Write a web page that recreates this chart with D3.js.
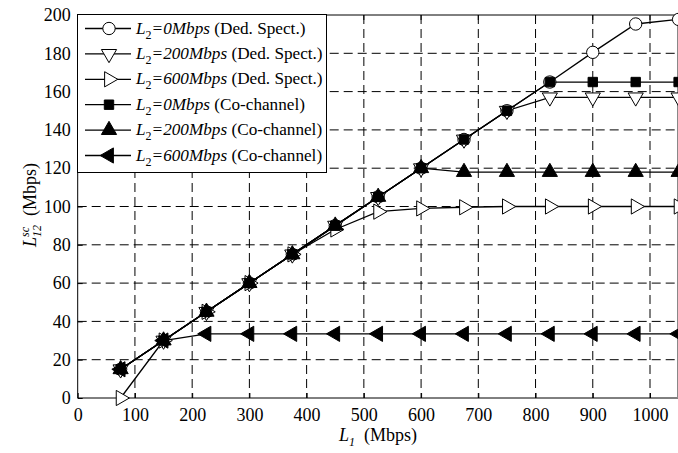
<!DOCTYPE html>
<html><head><meta charset="utf-8">
<script src="https://cdn.jsdelivr.net/npm/d3@7"></script>
<style>
html,body{margin:0;padding:0;background:#fff;}
svg{display:block;}
text{font-family:"Liberation Serif","Times New Roman",serif;fill:#000;}
</style></head>
<body><svg id="c" width="678" height="453"></svg>
<script>
const xValues = [75,150,225,300,375,450,525,600,675,750,825,900,975,1050];
const dedL0   = [15,30,45,60,75,90,105,120,135,150,165,180.5,195.3,197.7];
const dedL200 = [15,30,45,60,75,90,105,120,135,150,157,157,157,157];
const dedL600 = [0,30,45,60,75,88,97.3,99,99.6,100,100,100,100,100];
const coL0    = [15,30,45,60,75,90,105,120,135,150,165,165,165,165];
const coL200  = [15,30,45,60,75,90,105,120,118,118,118,118,118,118];
const coL600  = [15,30,33.5,33.5,33.5,33.5,33.5,33.5,33.5,33.5,33.5,33.5,33.5,33.5];
const legendL2 = ["0Mbps","200Mbps","600Mbps","0Mbps","200Mbps","600Mbps"];
const legendMode = ["(Ded. Spect.)","(Ded. Spect.)","(Ded. Spect.)","(Co-channel)","(Co-channel)","(Co-channel)"];
const xTicks = [0,100,200,300,400,500,600,700,800,900,1000];
const yTicks = [0,20,40,60,80,100,120,140,160,180,200];

const series = [
  {v:dedL0,   shape:"circle", rot:0,   fill:"#fff"},
  {v:dedL200, shape:"tri",    rot:180, fill:"#fff"},
  {v:dedL600, shape:"tri",    rot:90,  fill:"#fff"},
  {v:coL0,    shape:"square", rot:0,   fill:"#000"},
  {v:coL200,  shape:"tri",    rot:0,   fill:"#000"},
  {v:coL600,  shape:"tri",    rot:-90, fill:"#000"}
];

const svg = d3.select("#c");
const L = 77.7, T = 15, B = 398;
const x = d3.scaleLinear().domain([0,1050]).range([L, L + 1050*0.5723]);
const y = d3.scaleLinear().domain([0,200]).range([B, T]);
const R = x(1050);

const symFor = s => {
  if (s.shape === "circle") return d3.symbol(d3.symbolCircle, 120)();
  if (s.shape === "square") return d3.symbol(d3.symbolSquare, 88)();
  return d3.symbol(d3.symbolTriangle, 100)();
};

// grid
const g = svg.append("g");
g.selectAll(".gx").data(xTicks.filter(d=>d>0)).enter().append("line")
  .attr("x1", d=>x(d)).attr("x2", d=>x(d)).attr("y1", T).attr("y2", B)
  .attr("stroke","#000").attr("stroke-width",1).attr("stroke-dasharray","9,5");
g.selectAll(".gy").data(yTicks.filter(d=>d>0 && d<200)).enter().append("line")
  .attr("x1", L).attr("x2", R).attr("y1", d=>y(d)).attr("y2", d=>y(d))
  .attr("stroke","#000").attr("stroke-width",1).attr("stroke-dasharray","9,5");

// axes
const xAxis = d3.axisBottom(x).tickValues(xTicks).tickSize(-5).tickPadding(10).tickFormat(d3.format("d"));
const yAxis = d3.axisLeft(y).tickValues(yTicks).tickSize(-5).tickPadding(7).tickFormat(d3.format("d"));
const ax = svg.append("g").attr("transform",`translate(0,${B})`).call(xAxis);
const ay = svg.append("g").attr("transform",`translate(${L},0)`).call(yAxis);
[ax,ay].forEach(a=>{
  a.select(".domain").remove();
  a.selectAll("text").style("font-family","Liberation Serif").style("font-size","18px");
  a.selectAll("line").attr("stroke","#000");
});
// top ticks
svg.append("g").selectAll("line").data(xTicks).enter().append("line")
  .attr("x1",d=>x(d)).attr("x2",d=>x(d)).attr("y1",T).attr("y2",T+5).attr("stroke","#000");

// frame
svg.append("line").attr("x1",L).attr("x2",R).attr("y1",T).attr("y2",T).attr("stroke","#000");
svg.append("line").attr("x1",L).attr("x2",R).attr("y1",B).attr("y2",B).attr("stroke","#000");
svg.append("line").attr("x1",L).attr("x2",L).attr("y1",T).attr("y2",B).attr("stroke","#000");
svg.append("line").attr("x1",677.5).attr("x2",677.5).attr("y1",T).attr("y2",B).attr("stroke","#888");

// series
const line = d3.line().x((d,i)=>x(xValues[i])).y(d=>y(d));
series.forEach(s=>{
  svg.append("path").attr("d", line(s.v)).attr("fill","none").attr("stroke","#000").attr("stroke-width",1.3);
  svg.append("g").selectAll("path").data(s.v).enter().append("path")
    .attr("d", symFor(s))
    .attr("transform",(d,i)=>`translate(${x(xValues[i])},${y(d)}) rotate(${s.rot})`)
    .attr("fill", s.fill).attr("stroke","#000").attr("stroke-width",1);
});

// legend
const lg = svg.append("g");
lg.append("rect").attr("x",77.5).attr("y",14.5).attr("width",249).attr("height",158)
  .attr("fill","#fff").attr("stroke","#000").attr("stroke-width",1);
series.forEach((s,i)=>{
  const yy = 28.5 + i*25.4;
  lg.append("line").attr("x1",85).attr("x2",131).attr("y1",yy).attr("y2",yy).attr("stroke","#000").attr("stroke-width",1.3);
  lg.append("path").attr("d",symFor(s)).attr("transform",`translate(109,${yy}) rotate(${s.rot})`)
    .attr("fill",s.fill).attr("stroke","#000");
  const t = lg.append("text").attr("x",136).attr("y",yy+5).style("font-size","17.2px");
  t.append("tspan").style("font-style","italic").text("L");
  t.append("tspan").attr("dy",5).style("font-size","12px").text("2");
  t.append("tspan").attr("dy",-5).style("font-style","italic").text("=" + legendL2[i]);
  t.append("tspan").text(" " + legendMode[i]);
});

// x label
const xl = svg.append("text").attr("x",378).attr("y",441).attr("text-anchor","middle").style("font-size","18px");
xl.append("tspan").style("font-style","italic").text("L");
xl.append("tspan").attr("dy",5).style("font-size","12px").style("font-style","italic").text("1");
xl.append("tspan").attr("dy",-5).text("\u2002(Mbps)");

// y label
const yl = svg.append("text").attr("transform","translate(36,205) rotate(-90)").attr("text-anchor","middle").style("font-size","18px");
yl.append("tspan").style("font-style","italic").text("L");
yl.append("tspan").attr("dy",-7).style("font-size","12px").style("font-style","italic").text("sc");
yl.append("tspan").attr("dy",12).attr("dx",-10).style("font-size","12px").style("font-style","italic").text("12");
yl.append("tspan").attr("dy",-5).text("\u2002(Mbps)");
</script></body></html>
